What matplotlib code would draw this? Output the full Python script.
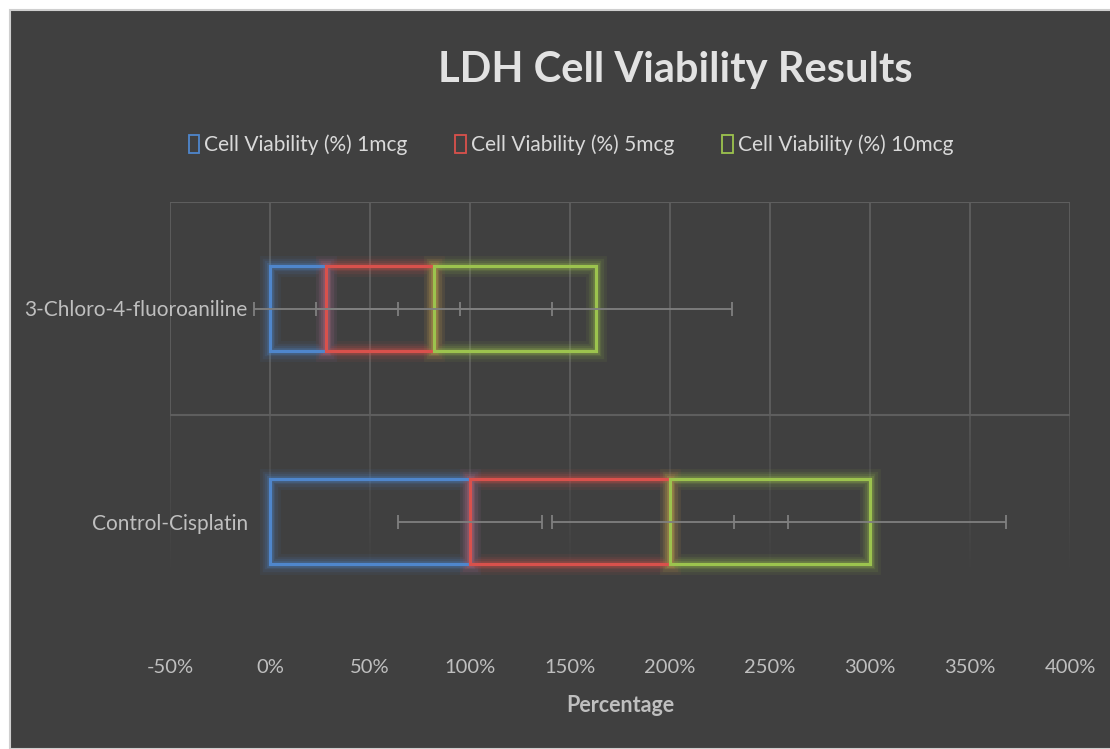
import matplotlib
matplotlib.use("Agg")
import matplotlib.pyplot as plt
import numpy as np
from matplotlib.patches import Rectangle, Patch
from matplotlib.collections import LineCollection

# ---- data ----
categories = ["Control-Cisplatin", "3-Chloro-4-fluoroaniline"]
series_names = ["Cell Viability (%) 1mcg", "Cell Viability (%) 5mcg", "Cell Viability (%) 10mcg"]
v_1mcg = [100, 28]
v_5mcg = [100, 54]
v_10mcg = [100, 81]
err_1mcg = [36, 36]
err_5mcg = [59, 59]
err_10mcg = [68, 68]
x_ticks = [-50, 0, 50, 100, 150, 200, 250, 300, 350, 400]
x_tick_labels = [f"{t}%" for t in x_ticks]

colors = ["#4F86CC", "#D9514C", "#9CC34E"]
BG = "#404040"
GRID = "#5e5e5e"
TXT = "#bfbfbf"

plt.rcParams['font.family'] = ['Lato', 'DejaVu Sans']

fig = plt.figure(figsize=(11.10, 7.49), dpi=100)
fig.patch.set_facecolor("white")
fig.patches.append(Rectangle((10/1110, 0), 1, 1 - 10/749, transform=fig.transFigure,
                             facecolor=BG, edgecolor="#cfcfcf", linewidth=1.5, zorder=-10))

ax = fig.add_axes([170/1110, 1 - 628/749, 900/1110, 426/749])
ax.set_zorder(5)
ax.set_facecolor("none")
ax.set_xlim(-50, 400)
ax.set_ylim(-0.5, 1.5)

y = np.arange(len(categories))
height = 0.40

# gridlines: solid in upper band, fading in lower band
segs, cols = [], []
rgb = matplotlib.colors.to_rgb(GRID)
for t in x_ticks:
    segs.append([(t, 0.5), (t, 1.5)])
    cols.append((*rgb, 1.0))
    n = 40
    ys = np.linspace(0.5, -0.25, n + 1)
    for i in range(n):
        segs.append([(t, ys[i]), (t, ys[i + 1])])
        cols.append((*rgb, 0.7 * (1 - i / n)))
ax.add_collection(LineCollection(segs, colors=cols, linewidths=1.3, zorder=1))
ax.axhline(1.5, color=GRID, lw=1.5, zorder=1)
ax.axhline(0.5, color=GRID, lw=1.5, zorder=1)

vals = [v_1mcg, v_5mcg, v_10mcg]
errs = [err_1mcg, err_5mcg, err_10mcg]
left = np.zeros(len(categories))
for vs, es, c in zip(vals, errs, colors):
    vs = np.array(vs, dtype=float)
    # glow
    for lw, a in [(15, 0.07), (11, 0.10), (7.5, 0.14), (5, 0.2)]:
        ax.barh(y, vs, height=height, left=left, facecolor="none",
                edgecolor=c, linewidth=lw, alpha=a, zorder=2)
    ax.barh(y, vs, height=height, left=left, facecolor="none",
            edgecolor=c, linewidth=2.3, zorder=3)
    ax.errorbar(left + vs, y, xerr=es, fmt="none", ecolor="#808080",
                elinewidth=1.3, capsize=5, capthick=1.3, zorder=4)
    left = left + vs

# axes styling
for s in ax.spines.values():
    s.set_visible(False)
ax.spines['left'].set_position(('data', 0))
ax.set_xticks(x_ticks)
ax.set_xticklabels(x_tick_labels)
ax.set_yticks(y)
ax.set_yticklabels(categories)
ax.tick_params(axis='x', length=0, pad=22, labelsize=14.5, colors=TXT)
ax.tick_params(axis='y', length=0, pad=16, labelsize=15, colors=TXT)
ax.set_xlabel("Percentage", fontsize=15.5, fontweight="bold", color=TXT, labelpad=14)

fig.text(675/1110, 1 - 70/749, "LDH Cell Viability Results", ha="center", va="center",
         fontsize=30, fontweight="bold", color="#e2e2e2")

handles = [Patch(facecolor="none", edgecolor=c, linewidth=1.3) for c in colors]
leg = fig.legend(handles, series_names, loc="center", bbox_to_anchor=(571/1110, 1 - 145/749),
                 ncol=3, frameon=False, fontsize=15, handlelength=0.5, handleheight=0.9,
                 handletextpad=0.25, columnspacing=2.3, labelcolor="#d9d9d9")

fig.savefig("out.png", dpi=100, facecolor=fig.get_facecolor())
